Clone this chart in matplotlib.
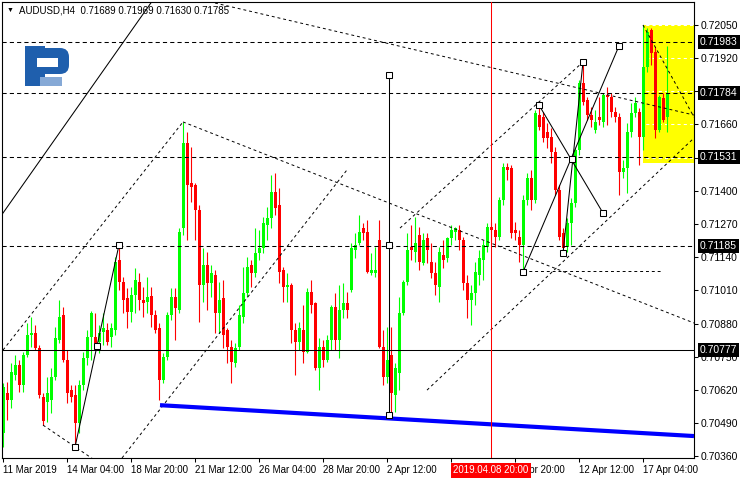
import numpy as np
import matplotlib
matplotlib.use('Agg')
import matplotlib.pyplot as plt
import matplotlib.transforms as mtransforms
from matplotlib.patches import Rectangle, FancyBboxPatch

plt.rcParams['font.family'] = ['Liberation Sans', 'DejaVu Sans']

# AUDUSD H4 candles, one per bar index (0 = 11 Mar 2019)
opens = [0.70451, 0.70607, 0.70580, 0.70678, 0.70717, 0.70639, 0.70756, 0.70835, 0.70843, 0.70784,
         0.70592, 0.70572, 0.70580, 0.70670, 0.70815, 0.70913, 0.70737, 0.70619, 0.70600, 0.70490,
         0.70639, 0.70745, 0.70827, 0.70827, 0.70807, 0.70847, 0.70854, 0.70827, 0.70854, 0.71129,
         0.71043, 0.70980, 0.70925, 0.70992, 0.71043, 0.70972, 0.70964, 0.70988, 0.70913, 0.70862,
         0.70658, 0.70749, 0.70913, 0.70984, 0.70933, 0.71254, 0.71587, 0.71431, 0.71423, 0.71325,
         0.71031, 0.71109, 0.71039, 0.71070, 0.70921, 0.70980, 0.70854, 0.70788, 0.70725, 0.70788,
         0.70905, 0.70999, 0.71109, 0.71078, 0.71156, 0.71176, 0.71266, 0.71293, 0.71395, 0.71344,
         0.71090, 0.71023, 0.71031, 0.70854, 0.70807, 0.70854, 0.70768, 0.71003, 0.70960, 0.70705,
         0.70788, 0.70737, 0.70815, 0.70945, 0.70815, 0.70933, 0.70960, 0.71011, 0.71168, 0.71195,
         0.71254, 0.71239, 0.71078, 0.71078, 0.71207, 0.70788, 0.70670, 0.70756, 0.70600, 0.70686,
         0.70921, 0.71043, 0.71180, 0.71160, 0.71227, 0.71117, 0.71215, 0.71121, 0.71078, 0.71023,
         0.71148, 0.71137, 0.71215, 0.71239, 0.71246, 0.71207, 0.71039, 0.70972, 0.70999, 0.71070,
         0.71129, 0.71180, 0.71258, 0.71246, 0.71219, 0.71364, 0.71493, 0.71489, 0.71246, 0.71219,
         0.71188, 0.71364, 0.71450, 0.71364, 0.71697, 0.71689, 0.71631, 0.71611, 0.71552, 0.71403,
         0.71235, 0.71180, 0.71274, 0.71352, 0.71560, 0.71823, 0.71756, 0.71697, 0.71638, 0.71689,
         0.71670, 0.71776, 0.71768, 0.71709, 0.71689, 0.71474, 0.71489, 0.71631, 0.71705, 0.71709,
         0.71611, 0.71885, 0.72030, 0.71944, 0.71638, 0.71764, 0.71689]
highs = [0.70647, 0.70651, 0.70725, 0.70756, 0.70737, 0.70768, 0.70882, 0.70905, 0.70874, 0.70796,
         0.70607, 0.70670, 0.70705, 0.70866, 0.70972, 0.70945, 0.70776, 0.70639, 0.70639, 0.70658,
         0.70768, 0.70854, 0.70930, 0.70921, 0.70874, 0.70921, 0.70882, 0.70882, 0.71141, 0.71188,
         0.71062, 0.71019, 0.71023, 0.71097, 0.71078, 0.71023, 0.71062, 0.71023, 0.70933, 0.70882,
         0.70764, 0.70925, 0.71019, 0.71019, 0.71254, 0.71670, 0.71631, 0.71572, 0.71431, 0.71344,
         0.71176, 0.71160, 0.71109, 0.71090, 0.71043, 0.71050, 0.70862, 0.70815, 0.70803, 0.70952,
         0.71101, 0.71141, 0.71129, 0.71254, 0.71246, 0.71297, 0.71337, 0.71462, 0.71470, 0.71411,
         0.71101, 0.71078, 0.71039, 0.70882, 0.70886, 0.70952, 0.71019, 0.71050, 0.70964, 0.70823,
         0.70815, 0.70835, 0.70952, 0.70999, 0.71031, 0.71039, 0.71003, 0.71195, 0.71235, 0.71305,
         0.71274, 0.71286, 0.71156, 0.71180, 0.71286, 0.70854, 0.70866, 0.70866, 0.70725, 0.70984,
         0.71050, 0.71235, 0.71266, 0.71297, 0.71258, 0.71235, 0.71235, 0.71195, 0.71121, 0.71180,
         0.71207, 0.71219, 0.71266, 0.71258, 0.71266, 0.71219, 0.71070, 0.71031, 0.71121, 0.71168,
         0.71207, 0.71274, 0.71278, 0.71274, 0.71376, 0.71509, 0.71509, 0.71501, 0.71278, 0.71246,
         0.71384, 0.71470, 0.71482, 0.71717, 0.71736, 0.71709, 0.71666, 0.71646, 0.71572, 0.71423,
         0.71254, 0.71293, 0.71372, 0.71568, 0.71834, 0.71905, 0.71768, 0.71729, 0.71717, 0.71768,
         0.71783, 0.71807, 0.71783, 0.71729, 0.71705, 0.71521, 0.71666, 0.71744, 0.71768, 0.71725,
         0.72050, 0.72038, 0.72038, 0.71964, 0.71776, 0.71783, 0.71969]
lows = [0.70396, 0.70502, 0.70549, 0.70658, 0.70611, 0.70611, 0.70749, 0.70788, 0.70776, 0.70588,
        0.70482, 0.70494, 0.70529, 0.70658, 0.70803, 0.70729, 0.70568, 0.70572, 0.70396, 0.70451,
        0.70619, 0.70717, 0.70737, 0.70776, 0.70764, 0.70796, 0.70796, 0.70788, 0.70835, 0.71011,
        0.70921, 0.70862, 0.70886, 0.70921, 0.70933, 0.70905, 0.70921, 0.70866, 0.70843, 0.70580,
        0.70647, 0.70737, 0.70894, 0.70815, 0.70921, 0.71227, 0.71207, 0.71356, 0.71207, 0.70886,
        0.70964, 0.70933, 0.70984, 0.70843, 0.70843, 0.70784, 0.70725, 0.70647, 0.70709, 0.70776,
        0.70882, 0.70984, 0.71023, 0.71062, 0.71129, 0.71156, 0.71207, 0.71254, 0.71305, 0.71039,
        0.70964, 0.70964, 0.70803, 0.70678, 0.70776, 0.70725, 0.70764, 0.70921, 0.70698, 0.70619,
        0.70709, 0.70729, 0.70776, 0.70776, 0.70745, 0.70901, 0.70901, 0.71003, 0.71137, 0.71188,
        0.71207, 0.71078, 0.71070, 0.71062, 0.70784, 0.70639, 0.70647, 0.70513, 0.70533, 0.70619,
        0.70913, 0.71031, 0.71129, 0.71121, 0.71090, 0.71109, 0.71117, 0.71058, 0.70992, 0.70964,
        0.71097, 0.71121, 0.71188, 0.71207, 0.71168, 0.71011, 0.70901, 0.70874, 0.70952, 0.71031,
        0.71050, 0.71160, 0.71199, 0.71180, 0.71207, 0.71344, 0.71442, 0.71215, 0.71207, 0.71121,
        0.71086, 0.71344, 0.71325, 0.71352, 0.71638, 0.71591, 0.71568, 0.71509, 0.71384, 0.71207,
        0.71156, 0.71160, 0.71188, 0.71337, 0.71540, 0.71736, 0.71678, 0.71650, 0.71627, 0.71658,
        0.71650, 0.71658, 0.71689, 0.71670, 0.71384, 0.71450, 0.71391, 0.71611, 0.71689, 0.71501,
        0.71560, 0.71866, 0.71893, 0.71607, 0.71631, 0.71670, 0.71630]
closes = [0.70631, 0.70580, 0.70690, 0.70717, 0.70639, 0.70756, 0.70835, 0.70843, 0.70784, 0.70600,
          0.70498, 0.70607, 0.70670, 0.70823, 0.70905, 0.70737, 0.70607, 0.70592, 0.70490, 0.70639,
          0.70745, 0.70827, 0.70921, 0.70803, 0.70843, 0.70862, 0.70807, 0.70862, 0.71121, 0.71043,
          0.70972, 0.70925, 0.70992, 0.71050, 0.70972, 0.70960, 0.70984, 0.70913, 0.70854, 0.70658,
          0.70749, 0.70913, 0.70984, 0.70941, 0.71239, 0.71587, 0.71423, 0.71415, 0.71325, 0.71031,
          0.71109, 0.71039, 0.71078, 0.70921, 0.70972, 0.70835, 0.70788, 0.70729, 0.70784, 0.70913,
          0.70999, 0.71101, 0.71078, 0.71156, 0.71176, 0.71274, 0.71293, 0.71395, 0.71333, 0.71082,
          0.71023, 0.71031, 0.70854, 0.70807, 0.70862, 0.70768, 0.71003, 0.70952, 0.70705, 0.70788,
          0.70737, 0.70815, 0.70945, 0.70815, 0.70933, 0.70960, 0.70933, 0.71176, 0.71188, 0.71239,
          0.71235, 0.71082, 0.71090, 0.71090, 0.70788, 0.70670, 0.70737, 0.70607, 0.70705, 0.70921,
          0.71043, 0.71168, 0.71168, 0.71195, 0.71121, 0.71207, 0.71168, 0.71078, 0.71031, 0.71160,
          0.71129, 0.71215, 0.71246, 0.71254, 0.71207, 0.71039, 0.70972, 0.70999, 0.71082, 0.71137,
          0.71188, 0.71258, 0.71246, 0.71219, 0.71364, 0.71493, 0.71482, 0.71235, 0.71235, 0.71188,
          0.71364, 0.71450, 0.71364, 0.71705, 0.71650, 0.71607, 0.71607, 0.71552, 0.71403, 0.71219,
          0.71176, 0.71274, 0.71352, 0.71560, 0.71823, 0.71748, 0.71697, 0.71678, 0.71670, 0.71678,
          0.71776, 0.71768, 0.71709, 0.71689, 0.71474, 0.71489, 0.71631, 0.71705, 0.71744, 0.71611,
          0.71885, 0.72023, 0.71940, 0.71638, 0.71768, 0.71678, 0.71785]

# time axis (the 5 Apr label is hidden under the cursor label in the original)
date_ticks = [0, 16, 32, 48, 64, 80, 96, 112, 128, 144, 160]
date_labels = ['11 Mar 2019', '14 Mar 04:00', '18 Mar 20:00', '21 Mar 12:00', '26 Mar 04:00',
               '28 Mar 20:00', '2 Apr 12:00', '', '9 Apr 20:00', '12 Apr 12:00',
               '17 Apr 04:00']
cursor_bar = 122
cursor_label = '2019.04.08 20:00'

# price axis
price_ticks = [0.72050, 0.71920, 0.71790, 0.71660, 0.71530, 0.71400, 0.71270,
               0.71140, 0.71010, 0.70880, 0.70750, 0.70620, 0.70490, 0.70360]
dashed_levels = [0.71983, 0.71784, 0.71531, 0.71185]
solid_level = 0.70777
marked_levels = [0.71983, 0.71784, 0.71531, 0.71185, 0.70777]

# drawn objects (bar index, price)
zigzag_lines = [((18, 0.70396), (29, 0.71188)),
                ((96.5, 0.71854), (96.5, 0.70521)),
                ((130, 0.71082), (154, 0.71968)),
                ((140, 0.71156), (145, 0.71905)),
                ((134, 0.71736), (150, 0.71313))]
zigzag_points = [(18, 0.70396), (23.5, 0.70792), (29, 0.71188),
                 (96.5, 0.71854), (96.5, 0.71188), (96.5, 0.70521),
                 (130, 0.71082), (142.25, 0.71525), (154, 0.71968),
                 (140, 0.71156), (145, 0.71905), (134, 0.71736), (150, 0.71313)]
channel_lines = [((0, 0.70776), (45, 0.71670)),
                 ((45, 0.71670), (172.75, 0.70882)),
                 ((10, 0.70482), (22.5, 0.70349)),
                 ((29.75, 0.70353), (86, 0.71482)),
                 ((106, 0.70619), (172.75, 0.71607)),
                 ((99.25, 0.71254), (145, 0.71905)),
                 ((130, 0.71086), (165, 0.71086)),
                 ((53, 0.72136), (172.75, 0.71697)),
                 ((160, 0.72050), (172.75, 0.71689))]
long_trend = ((0, 0.71313), (37.5, 0.72148))
blue_line = ((39.25, 0.70560), (172.75, 0.70439))
box_bar = 160
box_top, box_bottom = 0.72050, 0.71510

title = 'AUDUSD,H4  0.71689 0.71969 0.71630 0.71785'

fig = plt.figure(figsize=(7.4, 4.8), dpi=100)
ax = fig.add_axes([2 / 740, 22 / 480, 692 / 740, 456 / 480])
ax.set_xlim(-0.25, 172.75)
ax.set_ylim(0.70353, 0.72140)

# yellow box + grid (white grid only shows on the yellow)
ax.add_patch(Rectangle((box_bar, box_bottom), 172.75 - box_bar, box_top - box_bottom,
                       facecolor='#FFFF00', edgecolor='none', zorder=0.5))
for t in price_ticks:
    ax.axhline(t, color='white', lw=0.75, dashes=(3, 3), zorder=0.8)

# candles
o = np.array(opens)
h = np.array(highs)
l = np.array(lows)
c = np.array(closes)
x = np.arange(len(o))
cols = np.where(c >= o, '#00FF00', '#FF0000')
ax.vlines(x, l, h, colors=cols, lw=0.8, zorder=2)
body = np.maximum(np.abs(c - o), 0.00003)
ax.bar(x, body, bottom=np.minimum(o, c), width=0.75, color=cols, linewidth=0, zorder=2)

# horizontal levels
for lvl in dashed_levels:
    ax.axhline(lvl, color='black', lw=0.75, dashes=(4, 3), zorder=3)
ax.axhline(solid_level, color='black', lw=0.75, zorder=3)

# trend objects
for (x0, y0), (x1, y1) in channel_lines:
    ax.plot([x0, x1], [y0, y1], color='black', lw=0.7, dashes=(3, 3), zorder=3)
ax.plot([long_trend[0][0], long_trend[1][0]], [long_trend[0][1], long_trend[1][1]],
        color='black', lw=0.75, zorder=3)
for (x0, y0), (x1, y1) in zigzag_lines:
    ax.plot([x0, x1], [y0, y1], color='black', lw=0.75, zorder=3)
px, py = zip(*zigzag_points)
ax.plot(px, py, 's', ms=3.8, mfc='white', mec='black', mew=0.75, zorder=4)
ax.plot([blue_line[0][0], blue_line[1][0]], [blue_line[0][1], blue_line[1][1]],
        color='#0000FF', lw=3, solid_capstyle='butt', zorder=3)
ax.axvline(cursor_bar, color='#FF0000', lw=0.75, zorder=3)

# axes styling
for s in ax.spines.values():
    s.set_color('black')
    s.set_linewidth(0.8)
ax.yaxis.tick_right()
ax.set_yticks(price_ticks)
ax.set_yticklabels([f'{t:.5f}' for t in price_ticks])
ax.tick_params(axis='y', length=3, width=0.75, pad=1.5, labelsize=7.5, colors='black')
ax.set_xticks(date_ticks)
ax.set_xticklabels(date_labels)
for lab in ax.get_xticklabels():
    lab.set_ha('left')
ax.tick_params(axis='x', length=3, width=0.75, pad=2, labelsize=7, colors='black')

# highlighted price labels
blend = mtransforms.blended_transform_factory(ax.transAxes, ax.transData)
for lvl in marked_levels:
    ax.text(1.0087, lvl, f'{lvl:.5f}', transform=blend, color='white', fontsize=7.5,
            ha='left', va='center', clip_on=False, zorder=6,
            bbox=dict(boxstyle='square,pad=0.2', fc='black', ec='none'))

# cursor date label
blend_x = mtransforms.blended_transform_factory(ax.transData, ax.transAxes)
ax.text(cursor_bar, -0.0265, cursor_label, transform=blend_x, color='white', fontsize=7,
        ha='center', va='center', clip_on=False, zorder=6,
        bbox=dict(boxstyle='square,pad=0.25', fc='#FF0000', ec='none'))

# title
fig.text(7 / 740, 1 - 10.5 / 480, '\u25bc', fontsize=5, va='center', ha='left')
fig.text(19 / 740, 1 - 10.5 / 480, title, fontsize=7, va='center', ha='left')

# logo overlay in pixel space
ov = fig.add_axes([0, 0, 1, 1], zorder=5)
ov.set_xlim(0, 740)
ov.set_ylim(480, 0)
ov.axis('off')
ov.patch.set_alpha(0)
blue = '#1F5FAD'
ov.add_patch(FancyBboxPatch((27, 48), 42, 26, boxstyle='round,pad=0,rounding_size=9',
                            fc=blue, ec='none'))
ov.add_patch(Rectangle((25, 46), 20, 40, fc=blue, ec='none'))
ov.add_patch(Rectangle((37, 58), 21, 9, fc='white', ec='none'))
ov.add_patch(Rectangle((40, 77), 22, 9, fc='#86A9D6', ec='none'))

fig.savefig('out.png', dpi=100, facecolor='white')
